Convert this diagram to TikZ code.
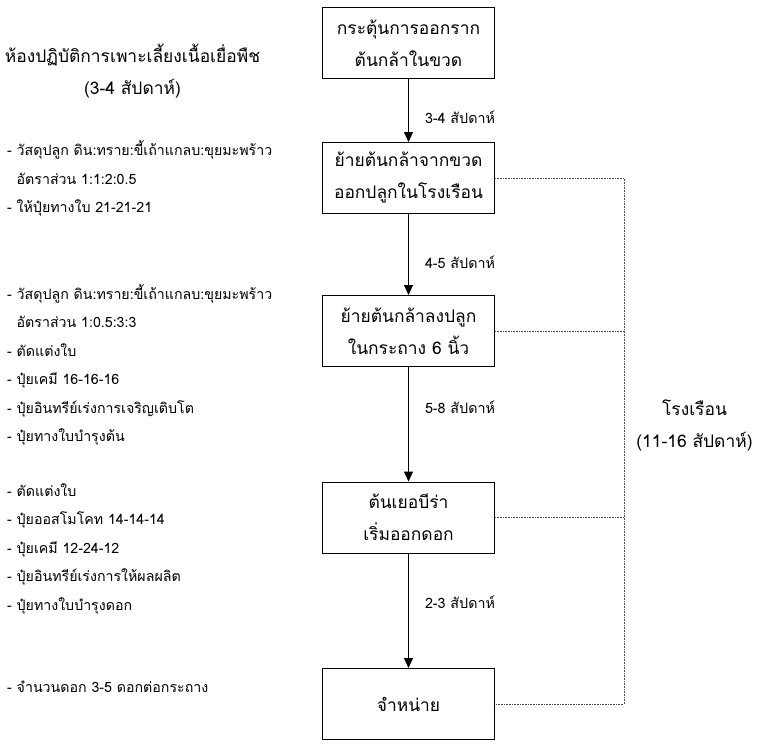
\documentclass[tikz,border=0pt]{standalone}
\usepackage{fontspec}
\newfontfamily\thaifont[Script=Thai]{Loma}
\usetikzlibrary{arrows.meta,positioning}
\tikzset{
  >={Triangle[length=10pt,width=9pt]},
  stage/.style={draw, line width=1pt, minimum width=172pt, minimum height=71pt, align=center, font=\thaifont\fontsize{17.4}{32}\selectfont, inner sep=0pt},
  flow/.style={->, line width=1pt},
  wk/.style={font=\thaifont\fontsize{14.3}{16}\selectfont, inner sep=0pt},
  note/.style={align=left, font=\thaifont\fontsize{14.2}{28.5}\selectfont, inner sep=0pt},
  head/.style={align=center, font=\thaifont\fontsize{17.4}{32}\selectfont, inner sep=0pt},
  link/.style={densely dotted, line width=0.6pt, black!70},
}
\begin{document}
\begin{tikzpicture}[x=1pt,y=-1pt]
  \useasboundingbox (0,0) rectangle (758,747);
  % stages
  \node[stage] (root)  at (408.5,43)    {กระตุ้นการออกราก\\ต้นกล้าในขวด};
  \node[stage] (move)  at (408.5,178)   {ย้ายต้นกล้าจากขวด\\ออกปลูกในโรงเรือน};
  \node[stage] (pot)   at (408.5,331)   {ย้ายต้นกล้าลงปลูก\\ในกระถาง 6 นิ้ว};
  \node[stage] (bloom) at (408.5,517.5) {ต้นเยอบีร่า\\เริ่มออกดอก};
  \node[stage] (sell)  at (408.5,704)   {จำหน่าย};

  % left side notes
  \node[head] (lab) at (132.5,71.5) {ห้องปฏิบัติการเพาะเลี้ยงเนื้อเยื่อพืช\\(3-4 สัปดาห์)};
  \node[note, anchor=west] (n1) at (7,178.5) {- วัสดุปลูก ดิน:ทราย:ขี้เถ้าแกลบ:ขุยมะพร้าว\\\phantom{- }อัตราส่วน 1:1:2:0.5\\- ให้ปุ๋ยทางใบ 21-21-21};
  \node[note, anchor=west] (n2) at (7,365) {- วัสดุปลูก ดิน:ทราย:ขี้เถ้าแกลบ:ขุยมะพร้าว\\\phantom{- }อัตราส่วน 1:0.5:3:3\\- ตัดแต่งใบ\\- ปุ๋ยเคมี 16-16-16\\- ปุ๋ยอินทรีย์เร่งการเจริญเติบโต\\- ปุ๋ยทางใบบำรุงต้น};
  \node[note, anchor=west] (n3) at (7,548.5) {- ตัดแต่งใบ\\- ปุ๋ยออสโมโคท 14-14-14\\- ปุ๋ยเคมี 12-24-12\\- ปุ๋ยอินทรีย์เร่งการให้ผลผลิต\\- ปุ๋ยทางใบบำรุงดอก};
  \node[note, anchor=west] (n4) at (7,687) {- จำนวนดอก 3-5 ดอกต่อกระถาง};

  % greenhouse bracket
  \coordinate (rail) at (624,0);
  \node[head] (house) at (694.5,425) {โรงเรือน\\(11-16 สัปดาห์)};

  \draw[flow] (root) -- node[wk, right=16pt, pos=0.6]{3-4 สัปดาห์} (move);
  \draw[flow] (move) -- node[wk, right=16pt, pos=0.6]{4-5 สัปดาห์} (pot);
  \draw[flow] (pot) -- node[wk, right=16pt, pos=0.35]{5-8 สัปดาห์} (bloom);
  \draw[flow] (bloom) -- node[wk, right=16pt, pos=0.43]{2-3 สัปดาห์} (sell);

  \draw[link] (move.east) -- (move.east -| rail) -- (sell.east -| rail) -- (sell.east);
  \draw[link] (pot.east) -- (pot.east -| rail);
  \draw[link] (bloom.east) -- (bloom.east -| rail);
\end{tikzpicture}
\end{document}
